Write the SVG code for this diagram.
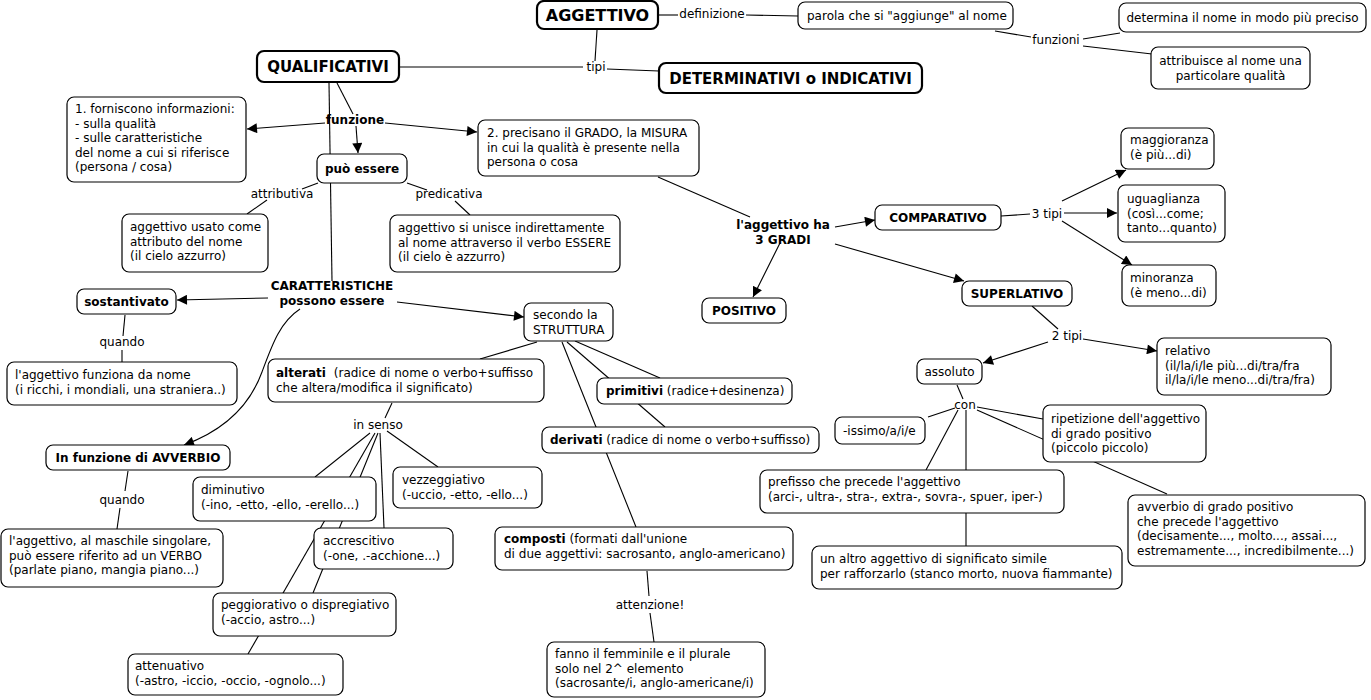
<svg xmlns="http://www.w3.org/2000/svg" width="1371" height="700" viewBox="0 0 1371 700">
<style>
rect{fill:#fff;stroke:#000;stroke-width:1.2}
rect.k{stroke-width:2.2}
text{font-family:"DejaVu Sans","Liberation Sans",sans-serif;font-size:12px;fill:#000}
.b{font-weight:bold}
.c{text-anchor:middle}
.h1{font-size:16px}
.h2{font-size:15px}
#links path{fill:none;stroke:#000;stroke-width:1.1}
#links .a{marker-end:url(#arr)}
</style>
<defs>
<marker id="arr" viewBox="0 0 10 10" refX="10" refY="5" markerWidth="11" markerHeight="10" orient="auto" markerUnits="userSpaceOnUse"><path d="M0,0 L10,5 L0,10 z" fill="#000"/></marker>
</defs>
<rect x="0" y="0" width="1371" height="700" style="stroke:none"/>
<g id="links">
<path d="M658,15 L678,15"/>
<path d="M746,15 L798,16"/>
<path d="M597,30 L595,61"/>
<path d="M399,67 L583,67"/>
<path d="M607,69 L659,71"/>
<path d="M995,31 L1031,37"/>
<path d="M1083,39 L1120,33"/>
<path d="M1083,46 L1152,54"/>
<path d="M337,83 L353,114"/>
<path d="M329,83 L332,281"/>
<path class="a" d="M356,126 L358,153"/>
<path class="a" d="M325,123 L247,129"/>
<path class="a" d="M385,123 L477,132"/>
<path d="M318,183 L302,189"/>
<path d="M267,200 L247,214"/>
<path d="M407,183 L427,190"/>
<path d="M455,201 L470,215"/>
<path d="M658,177 L750,217"/>
<path class="a" d="M835,227 L875,220"/>
<path class="a" d="M780,243 L753,297"/>
<path class="a" d="M835,244 L964,281"/>
<path d="M1001,216 L1030,214"/>
<path class="a" d="M1062,201 L1126,170"/>
<path class="a" d="M1064,213 L1117,213"/>
<path class="a" d="M1062,221 L1132,265"/>
<path d="M1032,306 L1058,329"/>
<path class="a" d="M1048,342 L983,363"/>
<path class="a" d="M1083,339 L1157,351"/>
<path d="M957,385 L963,399"/>
<path d="M955,408 L928,417"/>
<path d="M977,407 L1043,419"/>
<path d="M977,410 L1167,494"/>
<path d="M958,410 L926,470"/>
<path d="M966,410 L966,546"/>
<path class="a" d="M268,298 L177,300"/>
<path class="a" d="M397,302 L524,317"/>
<path class="a" d="M300,309 C280,322 272,345 262,372 C250,405 225,430 184,445"/>
<path d="M125,315 L123,336"/>
<path d="M122,350 L122,362"/>
<path d="M128,471 L125,491"/>
<path d="M120,508 L117,529"/>
<path d="M537,342 L480,359"/>
<path d="M575,341 L660,378"/>
<path d="M567,342 L665,427"/>
<path d="M562,342 L636,527"/>
<path d="M647,571 L649,596"/>
<path d="M650,613 L654,642"/>
<path d="M392,403 L385,418"/>
<path d="M370,433 L315,477"/>
<path d="M387,431 L438,467"/>
<path d="M380,433 L384,528"/>
<path d="M378,433 L313,593"/>
<path d="M375,433 L248,654"/>
</g>
<g id="labels">
<text class="c" x="712" y="18">definizione</text>
<text class="c" x="596" y="71">tipi</text>
<text class="c" x="1056" y="44">funzioni</text>
<text class="c b" x="355" y="124">funzione</text>
<text class="c" x="282" y="198">attributiva</text>
<text class="c" x="449" y="198">predicativa</text>
<text class="c b" x="783" y="229">l'aggettivo ha</text>
<text class="c b" x="783" y="244">3 GRADI</text>
<text class="c" x="1047" y="218">3 tipi</text>
<text class="c" x="1067" y="340">2 tipi</text>
<text class="c" x="965" y="409">con</text>
<text class="c b" x="332" y="290">CARATTERISTICHE</text>
<text class="c b" x="332" y="305">possono essere</text>
<text class="c" x="122" y="346">quando</text>
<text class="c" x="378" y="429">in senso</text>
<text class="c" x="122" y="504">quando</text>
<text class="c" x="650" y="609">attenzione!</text>
</g>
<g id="n-aggettivo"><rect class="k" x="537" y="1" width="121" height="28" rx="7"/><text class="c b h1" x="597.5" y="21">AGGETTIVO</text></g>
<g id="n-parola"><rect x="798" y="2" width="215" height="27" rx="7"/><text x="807" y="20">parola che si "aggiunge" al nome</text></g>
<g id="n-determina"><rect x="1119" y="3" width="247" height="29" rx="7"/><text class="c" x="1242.5" y="22">determina il nome in modo più preciso</text></g>
<g id="n-attribuisce"><rect x="1151" y="47" width="159" height="42" rx="7"/><text class="c" x="1230.5" y="65">attribuisce al nome una</text><text class="c" x="1230.5" y="79.5">particolare qualità</text></g>
<g id="n-qualificativi"><rect class="k" x="257" y="51" width="142" height="31" rx="7"/><text class="c b h2" x="328" y="72">QUALIFICATIVI</text></g>
<g id="n-determinativi"><rect class="k" x="659" y="63" width="263" height="30" rx="7"/><text class="c b h2" x="790.5" y="84">DETERMINATIVI o INDICATIVI</text></g>
<g id="n-forniscono"><rect x="67" y="97" width="179" height="85" rx="7"/><text x="75" y="113">1. forniscono informazioni:</text><text x="75" y="127.5">- sulla qualità</text><text x="75" y="142">- sulle caratteristiche</text><text x="75" y="156.5">del nome a cui si riferisce</text><text x="75" y="171">(persona / cosa)</text></g>
<g id="n-puo"><rect x="317" y="154" width="90" height="29" rx="7"/><text class="c b" x="362" y="173">può essere</text></g>
<g id="n-precisano"><rect x="478" y="120" width="221" height="56" rx="7"/><text x="487" y="137">2. precisano il GRADO, la MISURA</text><text x="487" y="151.5">in cui la qualità è presente nella</text><text x="487" y="166">persona o cosa</text></g>
<g id="n-attributo"><rect x="122" y="214" width="146" height="58" rx="7"/><text x="130" y="231">aggettivo usato come</text><text x="130" y="245.5">attributo del nome</text><text x="130" y="260">(il cielo azzurro)</text></g>
<g id="n-predicativo"><rect x="390" y="215" width="230" height="57" rx="7"/><text x="398" y="232">aggettivo si unisce indirettamente</text><text x="398" y="246.5">al nome attraverso il verbo ESSERE</text><text x="398" y="261">(il cielo è azzurro)</text></g>
<g id="n-sostantivato"><rect x="77" y="289" width="99" height="25" rx="7"/><text class="c b" x="126.5" y="306">sostantivato</text></g>
<g id="n-secondo"><rect x="524" y="303" width="89" height="38" rx="7"/><text x="533" y="319">secondo la</text><text x="533" y="333.5">STRUTTURA</text></g>
<g id="n-positivo"><rect x="702" y="298" width="84" height="25" rx="7"/><text class="c b" x="744" y="315">POSITIVO</text></g>
<g id="n-comparativo"><rect x="875" y="205" width="126" height="25" rx="7"/><text class="c b" x="938" y="222">COMPARATIVO</text></g>
<g id="n-maggioranza"><rect x="1121" y="128" width="93" height="41" rx="7"/><text x="1130" y="144">maggioranza</text><text x="1130" y="158.5">(è più...di)</text></g>
<g id="n-uguaglianza"><rect x="1118" y="185" width="107" height="57" rx="7"/><text x="1127" y="203">uguaglianza</text><text x="1127" y="217.5">(così...come;</text><text x="1127" y="232">tanto...quanto)</text></g>
<g id="n-minoranza"><rect x="1122" y="265" width="94" height="41" rx="7"/><text x="1130" y="282">minoranza</text><text x="1130" y="296.5">(è meno...di)</text></g>
<g id="n-superlativo"><rect x="962" y="281" width="110" height="25" rx="7"/><text class="c b" x="1017" y="298">SUPERLATIVO</text></g>
<g id="n-relativo"><rect x="1157" y="338" width="174" height="57" rx="7"/><text x="1165" y="355">relativo</text><text x="1165" y="369.5">(il/la/i/le più...di/tra/fra</text><text x="1165" y="384">il/la/i/le meno...di/tra/fra)</text></g>
<g id="n-assoluto"><rect x="917" y="359" width="65" height="25" rx="7"/><text class="c" x="949.5" y="376">assoluto</text></g>
<g id="n-issimo"><rect x="835" y="417" width="90" height="27" rx="7"/><text x="843" y="435">-issimo/a/i/e</text></g>
<g id="n-ripetizione"><rect x="1043" y="405" width="163" height="57" rx="7"/><text x="1051" y="423">ripetizione dell'aggettivo</text><text x="1051" y="437.5">di grado positivo</text><text x="1051" y="452">(piccolo piccolo)</text></g>
<g id="n-prefisso"><rect x="760" y="470" width="304" height="43" rx="7"/><text x="768" y="486">prefisso che precede l'aggettivo</text><text x="768" y="500.5">(arci-, ultra-, stra-, extra-, sovra-, spuer, iper-)</text></g>
<g id="n-avverbio"><rect x="1128" y="495" width="237" height="71" rx="7"/><text x="1137" y="511">avverbio di grado positivo</text><text x="1137" y="525.5">che precede l'aggettivo</text><text x="1137" y="540">(decisamente..., molto..., assai...,</text><text x="1137" y="554.5">estremamente..., incredibilmente...)</text></g>
<g id="n-altro"><rect x="812" y="546" width="310" height="43" rx="7"/><text x="820" y="563">un altro aggettivo di significato simile</text><text x="820" y="577.5">per rafforzarlo (stanco morto, nuova fiammante)</text></g>
<g id="n-funziona-nome"><rect x="7" y="362" width="230" height="43" rx="7"/><text x="15" y="379">l'aggettivo funziona da nome</text><text x="15" y="393.5">(i ricchi, i mondiali, una straniera..)</text></g>
<g id="n-alterati"><rect x="268" y="359" width="276" height="43" rx="7"/><text x="276" y="377"><tspan class="b">alterati</tspan><tspan dx="4"> (radice di nome o verbo+suffisso</tspan></text><text x="276" y="391.5">che altera/modifica il significato)</text></g>
<g id="n-primitivi"><rect x="597" y="378" width="195" height="26" rx="7"/><text x="606" y="395"><tspan class="b">primitivi</tspan> (radice+desinenza)</text></g>
<g id="n-derivati"><rect x="542" y="427" width="277" height="26" rx="7"/><text x="550" y="444"><tspan class="b">derivati</tspan> (radice di nome o verbo+suffisso)</text></g>
<g id="n-avverbio-funz"><rect x="46" y="445" width="184" height="25" rx="7"/><text class="c b" x="138" y="462">In funzione di AVVERBIO</text></g>
<g id="n-vezzeggiativo"><rect x="393" y="467" width="149" height="41" rx="7"/><text x="402" y="484">vezzeggiativo</text><text x="402" y="498.5">(-uccio, -etto, -ello...)</text></g>
<g id="n-diminutivo"><rect x="193" y="477" width="183" height="44" rx="7"/><text x="201" y="494">diminutivo</text><text x="201" y="508.5">(-ino, -etto, -ello, -erello...)</text></g>
<g id="n-accrescitivo"><rect x="314" y="528" width="139" height="41" rx="7"/><text x="323" y="545">accrescitivo</text><text x="323" y="559.5">(-one, .-acchione...)</text></g>
<g id="n-maschile"><rect x="1" y="529" width="222" height="58" rx="7"/><text x="9" y="545">l'aggettivo, al maschile singolare,</text><text x="9" y="559.5">può essere riferito ad un VERBO</text><text x="9" y="574">(parlate piano, mangia piano...)</text></g>
<g id="n-composti"><rect x="495" y="527" width="298" height="43" rx="7"/><text x="504" y="543"><tspan class="b">composti</tspan> (formati dall'unione</text><text x="504" y="557.5">di due aggettivi: sacrosanto, anglo-americano)</text></g>
<g id="n-peggiorativo"><rect x="213" y="593" width="183" height="43" rx="7"/><text x="221" y="609">peggiorativo o dispregiativo</text><text x="221" y="623.5">(-accio, astro...)</text></g>
<g id="n-attenuativo"><rect x="128" y="654" width="215" height="41" rx="7"/><text x="135" y="670">attenuativo</text><text x="135" y="684.5">(-astro, -iccio, -occio, -ognolo...)</text></g>
<g id="n-fanno"><rect x="547" y="642" width="218" height="55" rx="7"/><text x="555" y="658">fanno il femminile e il plurale</text><text x="555" y="672.5">solo nel 2^ elemento</text><text x="555" y="687">(sacrosante/i, anglo-americane/i)</text></g>
</svg>
